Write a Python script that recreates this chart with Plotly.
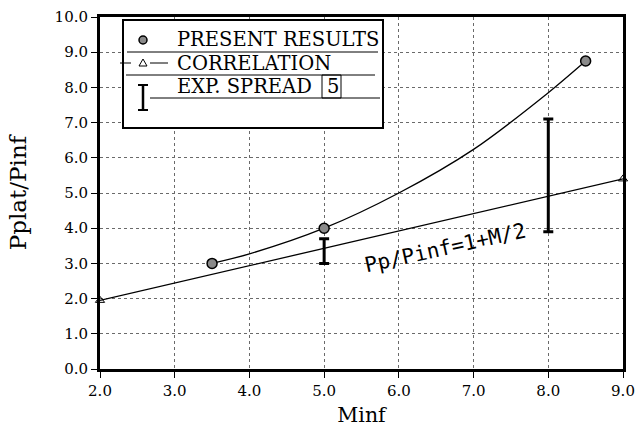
import plotly.graph_objects as go

# Present results (computed points)
res_x = [3.5, 5.0, 8.5]
res_y = [3.0, 4.0, 8.75]
# Fitted curve through the results
curve_x = [3.5, 4.0, 5.0, 6.0, 7.0, 8.0, 8.5]
curve_y = [3.0, 3.27, 4.0, 5.0, 6.24, 7.85, 8.75]
# Correlation Pp/Pinf = 1 + M/2
corr_x = [2.0, 9.0]
corr_y = [1.95, 5.4]
# Experimental spread
exp_x = [5.0, 8.0]
exp_low = [3.0, 3.9]
exp_high = [3.7, 7.1]

x_ticks = [2, 3, 4, 5, 6, 7, 8, 9]
y_ticks = [0, 1, 2, 3, 4, 5, 6, 7, 8, 9, 10]

SERIF = "DejaVu Serif"

fig = go.Figure()

fig.add_trace(go.Scatter(x=curve_x, y=curve_y, mode="lines",
                         line=dict(color="black", width=1.3, shape="spline", smoothing=0.8),
                         showlegend=False, hoverinfo="skip"))
fig.add_trace(go.Scatter(x=corr_x, y=corr_y, mode="lines+markers",
                         line=dict(color="black", width=1.3),
                         marker=dict(symbol="triangle-up-open", size=8, color="black",
                                     line=dict(width=1)),
                         showlegend=False, cliponaxis=False))
fig.add_trace(go.Scatter(x=res_x, y=res_y, mode="markers",
                         marker=dict(symbol="circle", size=10, color="#8a8a8a",
                                     line=dict(color="black", width=1.5)),
                         showlegend=False, cliponaxis=False))

mid = [(a + b) / 2 for a, b in zip(exp_low, exp_high)]
half = [(b - a) / 2 for a, b in zip(exp_low, exp_high)]
fig.add_trace(go.Scatter(x=exp_x, y=mid, mode="markers",
                         marker=dict(size=1, color="rgba(0,0,0,0)"),
                         error_y=dict(type="data", array=half, symmetric=True,
                                      color="black", thickness=3, width=5),
                         showlegend=False))

fig.add_annotation(x=6.62, y=3.45, xref="x", yref="y", text="Pp/Pinf=1+M/2",
                   showarrow=False, textangle=-12.5,
                   font=dict(family="DejaVu Sans Mono", size=21, color="black"))

# ---- legend box (paper coordinates) ----
def px(x):
    return (x - 100) / 523.0

def py(y):
    return (369 - y) / 352.0

shapes = []
shapes.append(dict(type="rect", xref="paper", yref="paper",
                   x0=px(123), x1=px(383), y0=py(128), y1=py(20),
                   line=dict(color="black", width=2), fillcolor="white", layer="above"))
for (x0, x1, y) in [(127, 378, 52), (126, 375, 75), (150, 380, 98)]:
    shapes.append(dict(type="line", xref="paper", yref="paper",
                       x0=px(x0), x1=px(x1), y0=py(y), y1=py(y),
                       line=dict(color="black", width=1), layer="above"))
shapes.append(dict(type="line", xref="paper", yref="paper",
                   x0=px(120), x1=px(131), y0=py(63), y1=py(63),
                   line=dict(color="black", width=1), layer="above"))
shapes.append(dict(type="line", xref="paper", yref="paper",
                   x0=px(150), x1=px(168), y0=py(63), y1=py(63),
                   line=dict(color="black", width=1), layer="above"))
shapes.append(dict(type="line", xref="paper", yref="paper",
                   x0=px(143), x1=px(143), y0=py(110), y1=py(85),
                   line=dict(color="black", width=2.5), layer="above"))
for y in (85, 110):
    shapes.append(dict(type="line", xref="paper", yref="paper",
                       x0=px(138), x1=px(148), y0=py(y), y1=py(y),
                       line=dict(color="black", width=2), layer="above"))
shapes.append(dict(type="circle", xref="paper", yref="paper",
                   x0=px(139), x1=px(147), y0=py(44), y1=py(36),
                   line=dict(color="black", width=1.5), fillcolor="#8a8a8a", layer="above"))
shapes.append(dict(type="path", xref="paper", yref="paper",
                   path="M {a},{b} L {c},{b} L {d},{e} Z".format(
                       a=px(139), b=py(66), c=px(147), d=px(143), e=py(59)),
                   line=dict(color="black", width=1), fillcolor="white", layer="above"))
shapes.append(dict(type="rect", xref="paper", yref="paper",
                   x0=px(322), x1=px(341), y0=py(98), y1=py(75),
                   line=dict(color="black", width=1), layer="above"))

for txt, x, y in [("PRESENT RESULTS", 175, 40), ("CORRELATION", 175, 63), ("EXP. SPREAD", 175, 86),
                  ("5", 325, 86)]:
    fig.add_annotation(x=px(x), y=py(y), xref="paper", yref="paper", text=txt,
                       showarrow=False, xanchor="left", yanchor="middle",
                       font=dict(family=SERIF, size=19.5, color="black"))

fig.update_layout(
    shapes=shapes,
    width=639, height=427,
    margin=dict(l=100, r=16, t=17, b=58),
    paper_bgcolor="white", plot_bgcolor="white",
    font=dict(family=SERIF, color="black"),
    showlegend=False,
)
fig.update_xaxes(range=[2, 9], tickvals=x_ticks, tickformat=".1f", automargin=False,
                 showgrid=True, gridcolor="#6a6a6a", griddash="dot", gridwidth=1,
                 showline=True, linecolor="black", linewidth=3, mirror=True,
                 ticks="outside", ticklen=6, tickcolor="black", tickwidth=1,
                 tickfont=dict(family=SERIF, size=15),
                 title=dict(text="Minf", font=dict(family=SERIF, size=20.5), standoff=15),
                 zeroline=False)
fig.update_yaxes(range=[0, 10], tickvals=y_ticks, tickformat=".1f", automargin=False,
                 showgrid=True, gridcolor="#6a6a6a", griddash="dot", gridwidth=1,
                 showline=True, linecolor="black", linewidth=3, mirror=True,
                 ticks="outside", ticklen=6, tickcolor="black", tickwidth=1,
                 tickfont=dict(family=SERIF, size=15),
                 title=dict(text="Pplat/Pinf", font=dict(family=SERIF, size=23), standoff=22),
                 zeroline=False)

fig.write_html("out.html")
